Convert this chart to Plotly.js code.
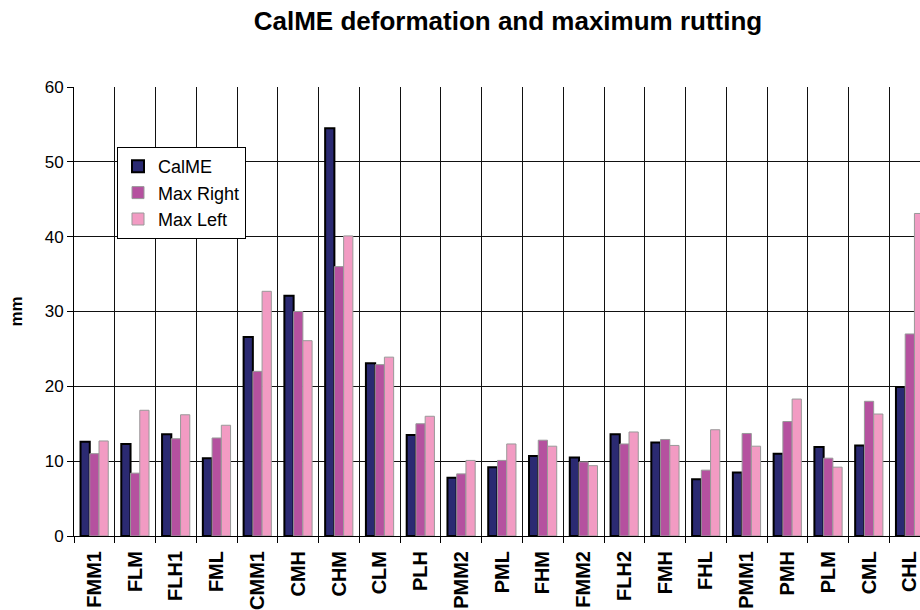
<!DOCTYPE html>
<html>
<head>
<meta charset="utf-8">
<script src="https://cdn.plot.ly/plotly-3.0.1.min.js"></script>
<style>html,body{margin:0;padding:0;overflow:hidden;background:#fff;}#chart{width:920px;height:610px;}</style>
</head>
<body>
<div id="chart"></div>
<script>
const categories = ["FMM1","FLM","FLH1","FML","CMM1","CMH","CHM","CLM","PLH","PMM2","PML","FHM","FMM2","FLH2","FMH","FHL","PMM1","PMH","PLM","CML","CHL"];
const calme    = [12.6, 12.3, 13.6, 10.4, 26.6, 32.1, 54.5, 23.1, 13.5, 7.8, 9.2, 10.7, 10.5, 13.6, 12.5, 7.6, 8.5, 11.0, 11.9, 12.1, 19.9];
const maxRight = [11.0, 8.4, 13.0, 13.1, 22.0, 30.0, 36.0, 22.9, 15.0, 8.3, 10.1, 12.8, 9.9, 12.3, 12.9, 8.8, 13.7, 15.3, 10.4, 18.0, 27.0];
const maxLeft  = [12.7, 16.8, 16.2, 14.8, 32.7, 26.1, 40.1, 23.9, 16.0, 10.1, 12.3, 12.0, 9.4, 13.9, 12.1, 14.2, 12.0, 18.3, 9.2, 16.3, 43.1];
const seriesNames = ["CalME", "Max Right", "Max Left"];

const FONT = 'Arial, "Liberation Sans", sans-serif';
const traces = [
  {type:'bar', name:seriesNames[0], x:categories, y:calme,
   marker:{color:'#2B2A72', line:{color:'#000000', width:2}}},
  {type:'bar', name:seriesNames[1], x:categories, y:maxRight,
   marker:{color:'#B5519F', line:{color:'#999999', width:1}}},
  {type:'bar', name:seriesNames[2], x:categories, y:maxLeft,
   marker:{color:'#F29BC3', line:{color:'#999999', width:1}}}
];

const layout = {
  width:920, height:610,
  margin:{l:74, r:0, t:87, b:74, pad:0},
  paper_bgcolor:'#ffffff', plot_bgcolor:'#ffffff',
  font:{family:FONT, color:'#000', size:17},
  title:{text:'<b>CalME deformation and maximum rutting</b>', font:{family:FONT, size:26, color:'#000'},
         x:(508-74)/846, xanchor:'center', xref:'paper', y:1-21/610, yanchor:'middle', yref:'container'},
  barmode:'group', bargap:0.32, bargroupgap:0,
  showlegend:true,
  legend:{x:(117-74)/846, y:(536-147)/449, xanchor:'left', yanchor:'top',
          bgcolor:'#ffffff', bordercolor:'#000000', borderwidth:1,
          font:{family:FONT, size:18, color:'#000'}, tracegroupgap:0},
  xaxis:{type:'category', range:[-0.5, 20.25], tickson:'boundaries',
         showgrid:true, gridcolor:'#111', gridwidth:1,
         ticks:'outside', ticklen:6, tickcolor:'#000', tickangle:-90, ticklabelstandoff:6,
         tickfont:{family:FONT, size:20, color:'#000', weight:'bold'},
         showline:true, linecolor:'#000', linewidth:1, zeroline:false, fixedrange:true},
  yaxis:{range:[0,60], dtick:10, tick0:0,
         showgrid:true, gridcolor:'#111', gridwidth:1,
         ticks:'outside', ticklen:6, tickcolor:'#000',
         tickfont:{family:FONT, size:17, color:'#000'},
         showline:true, linecolor:'#000', linewidth:1, zeroline:false,
         title:{text:'<b>mm</b>', font:{family:FONT, size:17, color:'#000'}, standoff:17}}
};

Plotly.newPlot('chart', traces, layout, {displayModeBar:false, staticPlot:true});
</script>
</body>
</html>
